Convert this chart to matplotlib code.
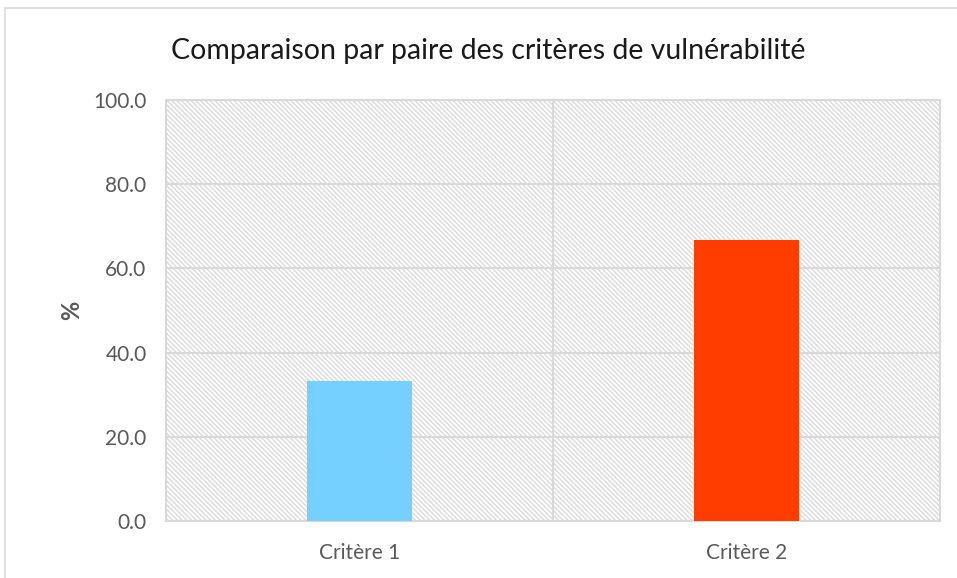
import matplotlib.pyplot as plt
from matplotlib.patches import Rectangle

categories = ['Critère 1', 'Critère 2']
values = [33.3, 66.7]
bar_colors = ['#75D0FF', '#FF3D00']
y_ticks = [0, 20, 40, 60, 80, 100]

plt.rcParams['font.family'] = ['Lato', 'DejaVu Sans']
plt.rcParams['hatch.color'] = '#DADADA'
plt.rcParams['hatch.linewidth'] = 1.0

W, H = 957, 578
fig = plt.figure(figsize=(W / 100, H / 100), dpi=100)

# light frame around the chart area
fig.patches.append(Rectangle((5 / W, -0.1), 1.2, 1.1 - 8 / H, transform=fig.transFigure,
                             fill=False, edgecolor='#D9D9D9', linewidth=1.2))

ax = fig.add_axes([166 / W, 1 - 521 / H, (940 - 166) / W, (521 - 100) / H])
ax.patch.set_facecolor('white')
ax.patch.set_hatch('\\' * 7)
ax.patch.set_edgecolor('#DADADA')

x = range(len(categories))
ax.bar(x, values, width=0.27, color=bar_colors, zorder=3)

ax.set_xlim(-0.5, 1.5)
ax.set_ylim(0, 100)
ax.set_yticks(y_ticks)
ax.set_yticklabels([f'{t:.1f}' for t in y_ticks])
ax.set_xticks(list(x))
ax.set_xticklabels(categories)

# category separators and horizontal grid
ax.grid(axis='y', color='#D9D9D9', linewidth=1.5, zorder=1)
ax.axvline(0.5, color='#D9D9D9', linewidth=1.5, zorder=1)
for s in ax.spines.values():
    s.set_color('#D9D9D9')
    s.set_linewidth(1.5)
ax.tick_params(length=0, labelsize=15, labelcolor='#595959')
ax.tick_params(axis='x', pad=16)
ax.tick_params(axis='y', pad=14)

ax.set_ylabel('%', fontsize=17, fontweight='bold', color='#595959', labelpad=7)
fig.text(488 / W, 1 - 51 / H, 'Comparaison par paire des critères de vulnérabilité',
         ha='center', va='center', fontsize=20.5, color='#1a1a1a')

fig.savefig('out.png', dpi=100)
